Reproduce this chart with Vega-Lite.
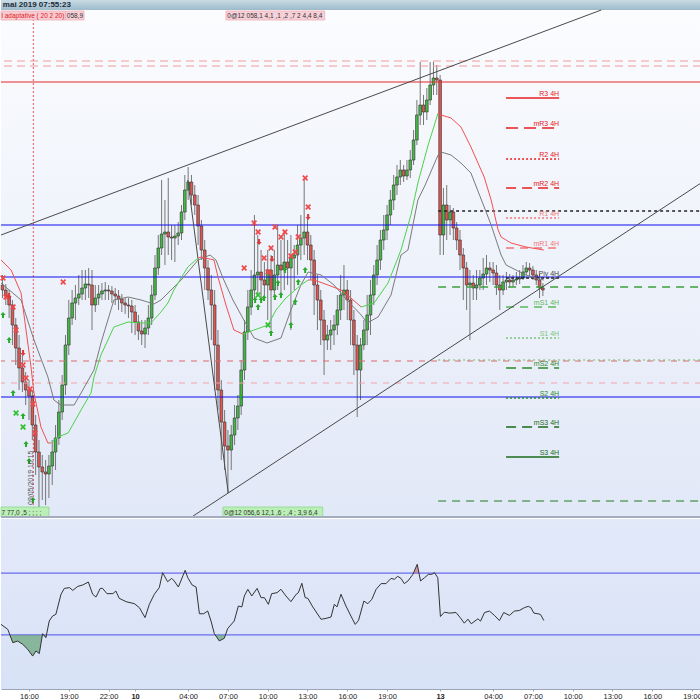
{
"$schema":"https://vega.github.io/schema/vega-lite/v6.json",
"padding":0,
"spacing":1,
"background":"#ffffff",
"config":{"view":{"stroke":null},"axis":{"grid":false},"font":"Liberation Sans","scale":{"continuousPadding":0}},
"datasets":{
"candles":[
{"t":0,"o":315,"h":325,"l":302,"c":310},{"t":1,"o":310,"h":316,"l":295,"c":304},{"t":2,"o":304,"h":310,"l":282,"c":295},{"t":3,"o":295,"h":300,"l":255,"c":275},{"t":4,"o":275,"h":282,"l":235,"c":252},{"t":5,"o":252,"h":265,"l":210,"c":232},{"t":6,"o":232,"h":245,"l":208,"c":218},{"t":7,"o":218,"h":228,"l":195,"c":210},{"t":8,"o":210,"h":220,"l":180,"c":204},{"t":9,"o":204,"h":210,"l":160,"c":175},
{"t":10,"o":175,"h":185,"l":125,"c":148},{"t":11,"o":148,"h":160,"l":93,"c":133},{"t":12,"o":133,"h":145,"l":100,"c":128},{"t":13,"o":128,"h":140,"l":95,"c":126},{"t":14,"o":126,"h":145,"l":102,"c":134},{"t":15,"o":134,"h":160,"l":115,"c":148},{"t":16,"o":148,"h":175,"l":130,"c":162},{"t":17,"o":162,"h":200,"l":155,"c":188},{"t":18,"o":188,"h":225,"l":180,"c":215},{"t":19,"o":215,"h":265,"l":205,"c":255},
{"t":20,"o":255,"h":300,"l":245,"c":282},{"t":21,"o":282,"h":310,"l":275,"c":297},{"t":22,"o":297,"h":315,"l":280,"c":302},{"t":23,"o":302,"h":325,"l":295,"c":306},{"t":24,"o":306,"h":330,"l":300,"c":312},{"t":25,"o":312,"h":330,"l":300,"c":316},{"t":26,"o":316,"h":332,"l":302,"c":315},{"t":27,"o":315,"h":330,"l":270,"c":295},{"t":28,"o":295,"h":315,"l":288,"c":302},{"t":29,"o":302,"h":315,"l":295,"c":306},
{"t":30,"o":306,"h":317,"l":300,"c":309},{"t":31,"o":309,"h":318,"l":300,"c":310},{"t":32,"o":310,"h":315,"l":300,"c":309},{"t":33,"o":309,"h":314,"l":297,"c":306},{"t":34,"o":306,"h":312,"l":295,"c":304},{"t":35,"o":304,"h":310,"l":290,"c":301},{"t":36,"o":301,"h":306,"l":288,"c":297},{"t":37,"o":297,"h":302,"l":286,"c":295},{"t":38,"o":295,"h":302,"l":282,"c":294},{"t":39,"o":294,"h":300,"l":267,"c":288},
{"t":40,"o":288,"h":295,"l":265,"c":278},{"t":41,"o":278,"h":285,"l":260,"c":269},{"t":42,"o":269,"h":280,"l":255,"c":266},{"t":43,"o":266,"h":280,"l":252,"c":272},{"t":44,"o":272,"h":295,"l":265,"c":282},{"t":45,"o":282,"h":315,"l":275,"c":305},{"t":46,"o":305,"h":345,"l":300,"c":332},{"t":47,"o":332,"h":365,"l":325,"c":352},{"t":48,"o":352,"h":420,"l":345,"c":366},{"t":49,"o":366,"h":400,"l":335,"c":368},
{"t":50,"o":368,"h":422,"l":345,"c":363},{"t":51,"o":363,"h":375,"l":340,"c":362},{"t":52,"o":362,"h":375,"l":338,"c":364},{"t":53,"o":364,"h":378,"l":355,"c":367},{"t":54,"o":367,"h":395,"l":360,"c":388},{"t":55,"o":388,"h":425,"l":380,"c":410},{"t":56,"o":410,"h":433,"l":400,"c":418},{"t":57,"o":418,"h":425,"l":395,"c":405},{"t":58,"o":405,"h":415,"l":385,"c":395},{"t":59,"o":395,"h":405,"l":355,"c":374},
{"t":60,"o":374,"h":380,"l":340,"c":350},{"t":61,"o":350,"h":360,"l":310,"c":332},{"t":62,"o":332,"h":340,"l":300,"c":310},{"t":63,"o":310,"h":325,"l":260,"c":295},{"t":64,"o":295,"h":310,"l":210,"c":255},{"t":65,"o":255,"h":270,"l":190,"c":210},{"t":66,"o":210,"h":220,"l":140,"c":178},{"t":67,"o":178,"h":190,"l":130,"c":154},{"t":68,"o":154,"h":170,"l":107,"c":150},{"t":69,"o":150,"h":175,"l":130,"c":165},
{"t":70,"o":165,"h":195,"l":155,"c":182},{"t":71,"o":182,"h":205,"l":170,"c":194},{"t":72,"o":194,"h":240,"l":185,"c":230},{"t":73,"o":230,"h":280,"l":220,"c":268},{"t":74,"o":268,"h":310,"l":260,"c":293},{"t":75,"o":293,"h":330,"l":285,"c":310},{"t":76,"o":310,"h":385,"l":300,"c":325},{"t":77,"o":325,"h":365,"l":305,"c":328},{"t":78,"o":328,"h":350,"l":300,"c":320},{"t":79,"o":320,"h":338,"l":300,"c":315},
{"t":80,"o":315,"h":350,"l":280,"c":330},{"t":81,"o":330,"h":345,"l":270,"c":310},{"t":82,"o":310,"h":350,"l":300,"c":325},{"t":83,"o":325,"h":375,"l":310,"c":335},{"t":84,"o":335,"h":360,"l":305,"c":330},{"t":85,"o":330,"h":370,"l":310,"c":338},{"t":86,"o":338,"h":360,"l":315,"c":332},{"t":87,"o":332,"h":365,"l":270,"c":342},{"t":88,"o":342,"h":355,"l":310,"c":345},{"t":89,"o":345,"h":375,"l":325,"c":355},
{"t":90,"o":355,"h":385,"l":340,"c":362},{"t":91,"o":362,"h":420,"l":345,"c":368},{"t":92,"o":368,"h":385,"l":340,"c":355},{"t":93,"o":355,"h":365,"l":320,"c":340},{"t":94,"o":340,"h":350,"l":285,"c":315},{"t":95,"o":315,"h":325,"l":270,"c":300},{"t":96,"o":300,"h":310,"l":255,"c":280},{"t":97,"o":280,"h":290,"l":225,"c":260},{"t":98,"o":260,"h":275,"l":250,"c":265},{"t":99,"o":265,"h":280,"l":250,"c":270},
{"t":100,"o":270,"h":285,"l":255,"c":275},{"t":101,"o":275,"h":305,"l":265,"c":290},{"t":102,"o":290,"h":325,"l":280,"c":305},{"t":103,"o":305,"h":335,"l":290,"c":310},{"t":104,"o":310,"h":320,"l":280,"c":300},{"t":105,"o":300,"h":310,"l":255,"c":280},{"t":106,"o":280,"h":290,"l":225,"c":255},{"t":107,"o":255,"h":265,"l":183,"c":230},{"t":108,"o":230,"h":262,"l":200,"c":255},{"t":109,"o":255,"h":280,"l":250,"c":270},
{"t":110,"o":270,"h":305,"l":255,"c":285},{"t":111,"o":285,"h":320,"l":265,"c":305},{"t":112,"o":305,"h":335,"l":295,"c":325},{"t":113,"o":325,"h":355,"l":315,"c":340},{"t":114,"o":340,"h":370,"l":330,"c":360},{"t":115,"o":360,"h":385,"l":350,"c":370},{"t":116,"o":370,"h":395,"l":360,"c":385},{"t":117,"o":385,"h":410,"l":375,"c":400},{"t":118,"o":400,"h":425,"l":390,"c":415},{"t":119,"o":415,"h":435,"l":405,"c":423},
{"t":120,"o":423,"h":440,"l":415,"c":430},{"t":121,"o":430,"h":435,"l":418,"c":424},{"t":122,"o":424,"h":440,"l":420,"c":430},{"t":123,"o":430,"h":450,"l":422,"c":440},{"t":124,"o":440,"h":470,"l":435,"c":460},{"t":125,"o":460,"h":500,"l":455,"c":485},{"t":126,"o":485,"h":538,"l":475,"c":495},{"t":127,"o":495,"h":505,"l":475,"c":488},{"t":128,"o":488,"h":512,"l":480,"c":500},{"t":129,"o":500,"h":538,"l":495,"c":515},
{"t":130,"o":515,"h":538,"l":505,"c":522},{"t":131,"o":522,"h":535,"l":505,"c":520},{"t":132,"o":520,"h":525,"l":345,"c":365},{"t":133,"o":365,"h":412,"l":345,"c":395},{"t":134,"o":395,"h":415,"l":360,"c":380},{"t":135,"o":380,"h":395,"l":365,"c":388},{"t":136,"o":388,"h":392,"l":360,"c":372},{"t":137,"o":372,"h":378,"l":350,"c":360},{"t":138,"o":360,"h":370,"l":330,"c":345},{"t":139,"o":345,"h":352,"l":300,"c":332},
{"t":140,"o":332,"h":338,"l":290,"c":315},{"t":141,"o":315,"h":330,"l":260,"c":317},{"t":142,"o":317,"h":325,"l":300,"c":312},{"t":143,"o":312,"h":330,"l":300,"c":315},{"t":144,"o":315,"h":330,"l":310,"c":322},{"t":145,"o":322,"h":342,"l":310,"c":326},{"t":146,"o":326,"h":345,"l":315,"c":332},{"t":147,"o":332,"h":338,"l":318,"c":330},{"t":148,"o":330,"h":338,"l":315,"c":327},{"t":149,"o":327,"h":335,"l":305,"c":315},
{"t":150,"o":315,"h":325,"l":290,"c":310},{"t":151,"o":310,"h":325,"l":305,"c":318},{"t":152,"o":318,"h":328,"l":310,"c":320},{"t":153,"o":320,"h":326,"l":312,"c":318},{"t":154,"o":318,"h":325,"l":313,"c":320},{"t":155,"o":320,"h":328,"l":315,"c":321},{"t":156,"o":321,"h":330,"l":316,"c":322},{"t":157,"o":322,"h":335,"l":320,"c":328},{"t":158,"o":328,"h":338,"l":325,"c":332},{"t":159,"o":332,"h":337,"l":324,"c":330},
{"t":160,"o":330,"h":334,"l":320,"c":325},{"t":161,"o":325,"h":330,"l":315,"c":320},{"t":162,"o":320,"h":326,"l":302,"c":312},{"t":163,"o":312,"h":317,"l":304,"c":310}
],
"mid":[
{"t":-0.45,"v":317},{"t":5.6,"v":300},{"t":9.5,"v":260},{"t":13.7,"v":223},{"t":15.5,"v":200},{"t":17.6,"v":195},{"t":21.6,"v":195},{"t":23.7,"v":207},{"t":27.6,"v":230},{"t":29.7,"v":257},{"t":32.7,"v":290},{"t":33.6,"v":300},{"t":37.9,"v":303},{"t":41.8,"v":300},{"t":45.7,"v":296},{"t":47.8,"v":300},{"t":53.9,"v":320},{"t":59,"v":340},{"t":62.6,"v":345},{"t":64.4,"v":340},{"t":66.5,"v":322},{"t":69.5,"v":300},{"t":72.8,"v":280},{"t":75.9,"v":262},{"t":79.8,"v":257},{"t":84,"v":262},{"t":87,"v":290},{"t":90,"v":315},{"t":92.2,"v":328},{"t":96.1,"v":325},{"t":100,"v":315},{"t":103.9,"v":300},{"t":108.2,"v":285},{"t":110,"v":277},{"t":113.3,"v":283},{"t":117.2,"v":305},{"t":120.2,"v":345},{"t":122.3,"v":350},{"t":125.3,"v":400},{"t":127.5,"v":415},{"t":131.4,"v":445},{"t":132.3,"v":448},{"t":135.3,"v":445},{"t":138.3,"v":437},{"t":141.3,"v":427},{"t":145.3,"v":393},{"t":147.4,"v":375},{"t":150.4,"v":345},{"t":151.9,"v":335},{"t":154.9,"v":330},{"t":157.9,"v":325},{"t":160.9,"v":322},{"t":163.3,"v":320}
],
"band":[
{"s":"r1","t":-0.45,"v":340},{"s":"r1","t":2.6,"v":330},{"s":"r1","t":5.6,"v":307},{"s":"r1","t":8.6,"v":233},{"s":"r1","t":9.5,"v":207},{"s":"r1","t":11.6,"v":173},{"s":"r1","t":13.7,"v":157},{"s":"r1","t":14.6,"v":157},
{"s":"g1","t":14.6,"v":157},{"s":"g1","t":16.7,"v":163},{"s":"g1","t":19.8,"v":167},{"s":"g1","t":23.7,"v":190},{"s":"g1","t":26.7,"v":207},{"s":"g1","t":27.6,"v":223},{"s":"g1","t":29.7,"v":245},{"s":"g1","t":31.8,"v":260},{"s":"g1","t":33.6,"v":273},{"s":"g1","t":37.9,"v":278},{"s":"g1","t":41.8,"v":277},{"s":"g1","t":44.8,"v":277},{"s":"g1","t":47.8,"v":288},{"s":"g1","t":49.9,"v":297},{"s":"g1","t":51.7,"v":310},{"s":"g1","t":55.9,"v":333},{"s":"g1","t":59,"v":342},
{"s":"r2","t":59,"v":342},{"s":"r2","t":59.9,"v":343},{"s":"r2","t":63.8,"v":340},{"s":"r2","t":65,"v":323},{"s":"r2","t":67.4,"v":295},{"s":"r2","t":69.8,"v":270},{"s":"r2","t":72.5,"v":266},
{"s":"g2","t":72.5,"v":266},{"s":"g2","t":75.9,"v":270},{"s":"g2","t":80.1,"v":275},{"s":"g2","t":82.5,"v":290},{"s":"g2","t":85.5,"v":302},{"s":"g2","t":90,"v":315},{"s":"g2","t":92.2,"v":320},
{"s":"r3","t":92.2,"v":320},{"s":"r3","t":94,"v":320},{"s":"r3","t":98.2,"v":315},{"s":"r3","t":102.1,"v":310},{"s":"r3","t":105.1,"v":302},{"s":"r3","t":108.2,"v":293},
{"s":"g3","t":108.2,"v":293},{"s":"g3","t":112.1,"v":297},{"s":"g3","t":116.3,"v":317},{"s":"g3","t":120.2,"v":350},{"s":"g3","t":123.2,"v":385},{"s":"g3","t":125.3,"v":417},{"s":"g3","t":128.4,"v":455},{"s":"g3","t":131.4,"v":487},
{"s":"r4","t":131.4,"v":487},{"s":"r4","t":132.3,"v":485},{"s":"r4","t":135.3,"v":482},{"s":"r4","t":138.3,"v":473},{"s":"r4","t":141.3,"v":453},{"s":"r4","t":145.3,"v":423},{"s":"r4","t":147.4,"v":400},{"s":"r4","t":149.5,"v":370},{"s":"r4","t":150.4,"v":363},{"s":"r4","t":153.4,"v":357},{"s":"r4","t":157.9,"v":353},{"s":"r4","t":163.3,"v":350}
],
"trend":[
{"g":"u","t":-0.45,"v":365},{"g":"u","t":180.6,"v":590},
{"g":"l","t":57.5,"v":84},{"g":"l","t":210.7,"v":417},
{"g":"z","t":55.9,"v":420},{"g":"z","t":68.1,"v":107}
],
"lv":[{"n":"a","v":539},{"n":"b","v":534},{"n":"c","v":518},{"n":"d","v":375},{"n":"e","v":323},{"n":"f","v":203},{"n":"g","v":239},{"n":"h","v":217}],
"pl":[{"n":"p1","v":389},{"n":"p2","v":313},{"n":"p3","v":240},{"n":"p4","v":99}],
"pv":[{"n":"R3","v":502,"lab":"R3 4H"},{"n":"mR3","v":472,"lab":"mR3 4H"},{"n":"R2","v":441,"lab":"R2 4H"},{"n":"mR2","v":412,"lab":"mR2 4H"},{"n":"R1","v":382,"lab":"R1 4H"},{"n":"mR1","v":352,"lab":"mR1 4H"},{"n":"Piv","v":322,"lab":"Piv 4H"},{"n":"mS1","v":293,"lab":"mS1 4H"},{"n":"S1","v":262,"lab":"S1 4H"},{"n":"mS2","v":232,"lab":"mS2 4H"},{"n":"S2","v":202,"lab":"S2 4H"},{"n":"mS3","v":173,"lab":"mS3 4H"},{"n":"S3","v":143,"lab":"S3 4H"}],
"mk":[
{"t":0.15,"v":322,"k":"xr"},{"t":1.05,"v":303,"k":"xr"},{"t":3.2,"v":293,"k":"xr"},{"t":4.1,"v":270,"k":"xr"},{"t":6.2,"v":235,"k":"xr"},{"t":7.1,"v":222,"k":"xr"},{"t":8.3,"v":211,"k":"xr"},{"t":9.2,"v":196,"k":"xr"},{"t":9.8,"v":167,"k":"xr"},{"t":18.3,"v":318,"k":"xr"},
{"t":72.9,"v":332,"k":"xr"},{"t":75.9,"v":377,"k":"xr"},{"t":77.1,"v":368,"k":"xr"},{"t":78.9,"v":342,"k":"xr"},{"t":81,"v":352,"k":"xr"},{"t":80.1,"v":328,"k":"xr"},{"t":82.2,"v":373,"k":"xr"},{"t":84,"v":363,"k":"xr"},{"t":85.2,"v":368,"k":"xr"},{"t":87,"v":344,"k":"xr"},{"t":88.3,"v":348,"k":"xr"},{"t":89.2,"v":363,"k":"xr"},{"t":91.3,"v":422,"k":"xr"},{"t":92.2,"v":393,"k":"xr"},
{"t":2,"v":304,"k":"dn"},{"t":6.2,"v":247,"k":"dn"},{"t":77.4,"v":358,"k":"dn"},{"t":81.3,"v":341,"k":"dn"},{"t":92.2,"v":383,"k":"dn"},
{"t":0.15,"v":285,"k":"up"},{"t":2,"v":260,"k":"up"},{"t":3.2,"v":207,"k":"up"},{"t":6.2,"v":184,"k":"up"},{"t":7.1,"v":156,"k":"up"},{"t":8,"v":139,"k":"up"},{"t":9.2,"v":100,"k":"up"},{"t":76.2,"v":300,"k":"up"},{"t":77.1,"v":293,"k":"up"},{"t":78,"v":300,"k":"up"},{"t":78.9,"v":302,"k":"up"},{"t":82.2,"v":303,"k":"up"},{"t":84,"v":305,"k":"up"},{"t":83.1,"v":317,"k":"up"},{"t":85.2,"v":330,"k":"up"},{"t":88.3,"v":298,"k":"up"},{"t":89.2,"v":318,"k":"up"},{"t":87,"v":275,"k":"up"},{"t":81,"v":267,"k":"up"},{"t":91.3,"v":330,"k":"up"},{"t":71.9,"v":203,"k":"up"},
{"t":4.1,"v":187,"k":"xg"},{"t":6.2,"v":173,"k":"xg"},{"t":77.1,"v":305,"k":"xg"},{"t":80.1,"v":275,"k":"xg"}
],
"boxes":[
{"x0":-0.45,"x1":19.0,"v0":580,"v1":589,"k":"pr","tx":-0.3,"txt":"l adaptative ( 20 2 20)"},
{"x0":19.1,"x1":24.6,"v0":580,"v1":589,"k":"pd","tx":19.4,"txt":"058,9"},
{"x0":67.4,"x1":97.2,"v0":580,"v1":589,"k":"pd","tx":67.8,"txt":"0@12 058,1  4,1  ,1  ,2  ,7  2  4,4   8,4"},
{"x0":-0.45,"x1":14,"v0":83,"v1":93,"k":"g","tx":-0.3,"txt":"7 77,0 ,5  ;  ;  ;  ;"},
{"x0":66.5,"x1":96.6,"v0":83,"v1":93,"k":"g","tx":66.9,"txt":"0@12 056,6 12,1 ,6  ;  ,4  ; 3,9  6,4"}
],
"rsi":[
{"t":-0.45,"r":36.8},{"t":1.6,"r":33.6},{"t":3.1,"r":25},{"t":4.6,"r":26},{"t":6.1,"r":23.9},{"t":7.6,"r":20.7},{"t":9.1,"r":16.3},{"t":10.1,"r":19.6},{"t":11.1,"r":17.9},{"t":12.1,"r":30.8},{"t":13.1,"r":28.2},{"t":14.1,"r":39},{"t":15.1,"r":42.2},{"t":16.1,"r":43.3},{"t":17.65,"r":56.3},{"t":18.65,"r":60.1},{"t":20.2,"r":60.6},{"t":21.2,"r":58.8},{"t":22.7,"r":61.4},{"t":24.2,"r":62.3},{"t":25.9,"r":64.2},{"t":27.2,"r":56.3},{"t":28.2,"r":54.5},{"t":29.5,"r":60.1},{"t":30.2,"r":60.1},{"t":31.5,"r":56.7},{"t":33.3,"r":56.7},{"t":34.2,"r":58.4},{"t":35.2,"r":53.7},{"t":37.3,"r":51.5},{"t":39.8,"r":50.2},{"t":41.3,"r":47.6},{"t":43,"r":41.2},{"t":44.3,"r":49.8},{"t":45.8,"r":56.3},{"t":47.3,"r":60.6},{"t":48.3,"r":70.3},{"t":49.8,"r":64.4},{"t":51.05,"r":66.6},{"t":51.8,"r":64.9},{"t":53.05,"r":61},{"t":55.1,"r":71.8},{"t":55.9,"r":67},{"t":57.2,"r":62.3},{"t":58.4,"r":61},{"t":59.4,"r":43.7},{"t":60.7,"r":43.7},{"t":61.9,"r":45.5},{"t":62.9,"r":39},{"t":63.9,"r":30.8},{"t":65.4,"r":26.1},{"t":66.9,"r":27.8},{"t":67.95,"r":34.2},{"t":69.9,"r":39},{"t":71.15,"r":48.7},{"t":72.2,"r":48.1},{"t":72.95,"r":55.2},{"t":74,"r":59.5},{"t":75.2,"r":55.2},{"t":76.8,"r":60.1},{"t":78,"r":54.1},{"t":79,"r":54.1},{"t":80.2,"r":49.8},{"t":81.2,"r":56.7},{"t":82.8,"r":57.3},{"t":84,"r":59.5},{"t":85.5,"r":55.2},{"t":87,"r":51.5},{"t":88.6,"r":56.3},{"t":89.25,"r":57.3},{"t":90.3,"r":63.4},{"t":91.3,"r":54.1},{"t":92.1,"r":53.7},{"t":93.6,"r":48.1},{"t":96.1,"r":40.1},{"t":97.6,"r":40.7},{"t":99.1,"r":41.6},{"t":100.1,"r":49.8},{"t":100.9,"r":48.1},{"t":102.1,"r":56.3},{"t":103.6,"r":48.7},{"t":105.1,"r":42.2},{"t":106.4,"r":36.8},{"t":107.4,"r":39.4},{"t":109,"r":51.9},{"t":110.2,"r":50.2},{"t":111.4,"r":53},{"t":112.7,"r":59.5},{"t":114.2,"r":63.2},{"t":115.7,"r":63.2},{"t":117.2,"r":66.6},{"t":118.2,"r":66},{"t":119.2,"r":67.9},{"t":120.2,"r":66.6},{"t":121.2,"r":63.2},{"t":122.3,"r":64.9},{"t":123.8,"r":69.2},{"t":125.1,"r":75.7},{"t":126.1,"r":64.9},{"t":127.3,"r":67},{"t":128.5,"r":69.2},{"t":129.5,"r":69.2},{"t":130.3,"r":70.3},{"t":131.3,"r":67},{"t":132.1,"r":41.9},{"t":133.3,"r":44.7},{"t":134.8,"r":44.1},{"t":136.8,"r":44.5},{"t":138.1,"r":41.1},{"t":139.3,"r":37.6},{"t":140.4,"r":40.2},{"t":141.4,"r":37.2},{"t":143.4,"r":40.4},{"t":144.2,"r":38.9},{"t":145.4,"r":44.5},{"t":146.9,"r":45.4},{"t":148.4,"r":42.6},{"t":149.9,"r":39.3},{"t":151.2,"r":44.5},{"t":152.9,"r":42.6},{"t":154.4,"r":45.4},{"t":155.9,"r":45.8},{"t":157.4,"r":47.6},{"t":158.6,"r":48.5},{"t":159.4,"r":47.6},{"t":160.3,"r":44.1},{"t":161.5,"r":43.7},{"t":162.3,"r":43.2},{"t":163.3,"r":39.3}
],
"os":[
{"g":"a","t":2.2,"r":30},{"g":"a","t":3.1,"r":25},{"g":"a","t":4.6,"r":26},{"g":"a","t":6.1,"r":23.9},{"g":"a","t":7.6,"r":20.7},{"g":"a","t":9.1,"r":16.3},{"g":"a","t":10.1,"r":19.6},{"g":"a","t":11.1,"r":17.9},{"g":"a","t":12.04,"r":30},
{"g":"b","t":12.4,"r":30},{"g":"b","t":13.1,"r":28.2},{"g":"b","t":13.27,"r":30},
{"g":"c","t":64.15,"r":30},{"g":"c","t":65.4,"r":26.1},{"g":"c","t":66.9,"r":27.8},{"g":"c","t":67.26,"r":30}
],
"ob":[{"t":123.96,"r":70},{"t":125.1,"r":75.7},{"t":125.63,"r":70}]
},
"vconcat":[
{
"width":700,"height":517,
"resolve":{"scale":{"color":"independent","strokeDash":"independent","strokeWidth":"independent","shape":"independent","fill":"independent","stroke":"independent"}},
"layer":[
{"data":{"values":[{"p":"bg"}]},
 "mark":{"type":"rect","fill":{"gradient":"linear","x1":0,"y1":0,"x2":0,"y2":1,"stops":[{"offset":0,"color":"#fbfcfe"},{"offset":1,"color":"#e1e8f7"}]}},
 "encoding":{"x":{"datum":-0.45,"type":"quantitative","scale":{"domain":[-0.45,210.7],"nice":false,"zero":false,"padding":0},"axis":null},"x2":{"datum":210.7},
 "y":{"datum":83,"type":"quantitative","scale":{"domain":[83,600],"nice":false,"zero":false,"padding":0},"axis":null},"y2":{"datum":590}}},
{"data":{"values":[{"p":"bar"}]},
 "mark":{"type":"rect","fill":{"gradient":"linear","x1":0,"y1":0,"x2":0,"y2":1,"stops":[{"offset":0,"color":"#cadce5"},{"offset":1,"color":"#9dbacb"}]}},
 "encoding":{"x":{"datum":-0.45,"type":"quantitative","axis":null},"x2":{"datum":210.7},"y":{"datum":590,"type":"quantitative","axis":null},"y2":{"datum":600}}},
{"data":{"values":[{"t":9.3}]},
 "mark":{"type":"rule","color":"#e85858","strokeDash":[2,2],"strokeWidth":1},
 "encoding":{"x":{"field":"t","type":"quantitative","axis":null},"y":{"datum":83,"type":"quantitative","axis":null},"y2":{"datum":580}}},
{"data":{"name":"candles"},
 "mark":{"type":"rule","color":"#767676","strokeWidth":1},
 "encoding":{"x":{"field":"t","type":"quantitative","axis":null},"y":{"field":"l","type":"quantitative","axis":null},"y2":{"field":"h"}}},
{"data":{"name":"candles"},
 "mark":{"type":"bar","size":2.7,"stroke":"#2e2e2e","strokeWidth":0.6,"orient":"vertical"},
 "encoding":{"x":{"field":"t","type":"quantitative","axis":null},"y":{"field":"o","type":"quantitative","axis":null},"y2":{"field":"c"},
 "fill":{"condition":{"test":"datum.c > datum.o","value":"#44b844"},"value":"#de5752"}}},
{"data":{"name":"lv"},
 "mark":{"type":"rule","clip":true},
 "encoding":{"y":{"field":"v","type":"quantitative","axis":null},
 "color":{"field":"n","type":"nominal","legend":null,"scale":{"domain":["a","b","c","d","e","f","g","h"],"range":["#f29a9a","#f29a9a","#e62828","#0c0cf0","#0c0cf0","#0c0cf0","#e06a6a","#f2a6a6"]}},
 "strokeDash":{"field":"n","type":"nominal","legend":null,"scale":{"domain":["a","b","c","d","e","f","g","h"],"range":[[8,5],[8,5],[1,0],[1,0],[1,0],[1,0],[6,6],[6,6]]}},
 "strokeWidth":{"field":"n","type":"nominal","legend":null,"scale":{"domain":["a","b","c","d","e","f","g","h"],"range":[1.2,1.2,1.5,1.8,1.8,1.8,1,1.2]}}}},
{"data":{"name":"pl"},
 "mark":{"type":"rule","clip":true},
 "encoding":{"x":{"datum":131.4,"type":"quantitative","axis":null},"x2":{"datum":210.7},"y":{"field":"v","type":"quantitative","axis":null},
 "color":{"field":"n","type":"nominal","legend":null,"scale":{"domain":["p1","p2","p3","p4"],"range":["#222222","#3da03d","#6ab86a","#1f7a1f"]}},
 "strokeDash":{"field":"n","type":"nominal","legend":null,"scale":{"domain":["p1","p2","p3","p4"],"range":[[3,3],[8,6],[2,3],[8,6]]}},
 "strokeWidth":{"field":"n","type":"nominal","legend":null,"scale":{"domain":["p1","p2","p3","p4"],"range":[1.5,1,1.2,1.5]}}}},
{"data":{"name":"pv"},
 "mark":{"type":"rule"},
 "encoding":{"x":{"datum":151.9,"type":"quantitative","axis":null},"x2":{"datum":167.9},"y":{"field":"v","type":"quantitative","axis":null},
 "color":{"field":"n","type":"nominal","legend":null,"scale":{"domain":["R3","mR3","R2","mR2","R1","mR1","Piv","mS1","S1","mS2","S2","mS3","S3"],"range":["#e62020","#e62020","#e62020","#e62020","#f07878","#f07878","#222222","#5ab85a","#7cc47c","#2a8a2a","#2a8a2a","#1a6a1a","#1a6a1a"]}},
 "strokeDash":{"field":"n","type":"nominal","legend":null,"scale":{"domain":["R3","mR3","R2","mR2","R1","mR1","Piv","mS1","S1","mS2","S2","mS3","S3"],"range":[[1,0],[12,6],[2,2],[10,6],[2,2],[8,6],[3,2],[8,6],[2,2],[10,6],[2,2],[10,6],[1,0]]}},
 "strokeWidth":{"field":"n","type":"nominal","legend":null,"scale":{"domain":["R3","mR3","R2","mR2","R1","mR1","Piv","mS1","S1","mS2","S2","mS3","S3"],"range":[1.6,1.6,1.6,1.6,1.2,1.2,1.6,1.2,1.2,1.6,1.6,1.6,1.6]}}}},
{"data":{"name":"trend"},
 "mark":{"type":"line","color":"#4a4a4a","strokeWidth":1,"clip":true},
 "encoding":{"x":{"field":"t","type":"quantitative","axis":null},"y":{"field":"v","type":"quantitative","axis":null},"detail":{"field":"g"}}},
{"data":{"name":"mid"},
 "mark":{"type":"line","color":"#7a7a7a","strokeWidth":1,"clip":true},
 "encoding":{"x":{"field":"t","type":"quantitative","axis":null},"y":{"field":"v","type":"quantitative","axis":null}}},
{"data":{"name":"band"},
 "mark":{"type":"line","strokeWidth":1,"clip":true},
 "encoding":{"x":{"field":"t","type":"quantitative","axis":null},"y":{"field":"v","type":"quantitative","axis":null},"detail":{"field":"s"},
 "color":{"field":"s","type":"nominal","legend":null,"scale":{"domain":["r1","g1","r2","g2","r3","g3","r4"],"range":["#f25050","#4cd24c","#f25050","#4cd24c","#f25050","#4cd24c","#f25050"]}}}},
{"data":{"name":"mk"},
 "mark":{"type":"point","filled":true,"size":34,"opacity":1},
 "encoding":{"x":{"field":"t","type":"quantitative","axis":null},"y":{"field":"v","type":"quantitative","axis":null},
 "shape":{"field":"k","type":"nominal","legend":null,"scale":{"domain":["xr","xg","up","dn"],"range":["M-1,-0.6L-0.6,-1L0,-0.4L0.6,-1L1,-0.6L0.4,0L1,0.6L0.6,1L0,0.4L-0.6,1L-1,0.6L-0.4,0Z","M-1,-0.6L-0.6,-1L0,-0.4L0.6,-1L1,-0.6L0.4,0L1,0.6L0.6,1L0,0.4L-0.6,1L-1,0.6L-0.4,0Z","M0,-1L0.9,0L0.35,0L0.35,1L-0.35,1L-0.35,0L-0.9,0Z","M0,1L0.9,0L0.35,0L0.35,-1L-0.35,-1L-0.35,0L-0.9,0Z"]}},
 "color":{"field":"k","type":"nominal","legend":null,"scale":{"domain":["xr","xg","up","dn"],"range":["#f04848","#2ec02e","#2aaa2a","#e03838"]}}}},
{"data":{"name":"pv"},
 "mark":{"type":"text","align":"right","baseline":"bottom","dy":-1,"fontSize":7,"font":"Liberation Sans"},
 "encoding":{"x":{"datum":167.9,"type":"quantitative","axis":null},"y":{"field":"v","type":"quantitative","axis":null},"text":{"field":"lab"},
 "color":{"field":"n","type":"nominal","legend":null,"scale":{"domain":["R3","mR3","R2","mR2","R1","mR1","Piv","mS1","S1","mS2","S2","mS3","S3"],"range":["#e62020","#e62020","#e62020","#e62020","#f07878","#f07878","#444444","#5ab85a","#7cc47c","#2a8a2a","#2a8a2a","#1a6a1a","#1a6a1a"]}}}},
{"data":{"name":"boxes"},
 "mark":{"type":"rect","strokeWidth":0.8,"opacity":0.9},
 "encoding":{"x":{"field":"x0","type":"quantitative","axis":null},"x2":{"field":"x1"},"y":{"field":"v0","type":"quantitative","axis":null},"y2":{"field":"v1"},
 "fill":{"field":"k","type":"nominal","legend":null,"scale":{"domain":["pr","pd","g"],"range":["#f7c6ce","#f7ccd4","#b6f0b0"]}},
 "stroke":{"field":"k","type":"nominal","legend":null,"scale":{"domain":["pr","pd","g"],"range":["#f0a8b4","#f0a8b4","#84d884"]}}}},
{"data":{"name":"boxes"},
 "mark":{"type":"text","align":"left","baseline":"middle","fontSize":6.5,"font":"Liberation Sans"},
 "encoding":{"x":{"field":"tx","type":"quantitative","axis":null},"y":{"field":"v0","type":"quantitative","axis":null},"yOffset":{"value":-4.5},"text":{"field":"txt"},
 "color":{"field":"k","type":"nominal","legend":null,"scale":{"domain":["pr","pd","g"],"range":["#e02020","#333333","#333333"]}}}},
{"data":{"values":[{"t":0.1,"v":595,"txt":"mai 2019 07:55:23"}]},
 "mark":{"type":"text","align":"left","baseline":"middle","fontSize":8,"fontWeight":"bold","color":"#1c2a36","font":"Liberation Sans"},
 "encoding":{"x":{"field":"t","type":"quantitative","axis":null},"y":{"field":"v","type":"quantitative","axis":null},"text":{"field":"txt"}}},
{"data":{"values":[{"t":8.7,"v":95,"txt":"09/05/2019 16:15"}]},
 "mark":{"type":"text","align":"left","baseline":"middle","angle":270,"fontSize":7,"color":"#555555","font":"Liberation Sans"},
 "encoding":{"x":{"field":"t","type":"quantitative","axis":null},"y":{"field":"v","type":"quantitative","axis":null},"text":{"field":"txt"}}},
{"data":{"values":[{"v":83}]},
 "mark":{"type":"rule","color":"#a4adbd","strokeWidth":2},
 "encoding":{"y":{"field":"v","type":"quantitative","axis":null}}}
]
},
{
"width":700,"height":170,
"layer":[
{"data":{"values":[{"p":"bg"}]},
 "mark":{"type":"rect","fill":{"gradient":"linear","x1":0,"y1":0,"x2":0,"y2":1,"stops":[{"offset":0,"color":"#e2e9f9"},{"offset":1,"color":"#d8e2f6"}]}},
 "encoding":{"x":{"datum":-0.45,"type":"quantitative","scale":{"domain":[-0.45,210.7],"nice":false,"zero":false,"padding":0},
   "axis":{"values":[8,20,32,40,56,68,80,92,104,116,132,148,160,172,184,196,208],
   "labelExpr":"['16:00','19:00','22:00','10','04:00','07:00','10:00','13:00','16:00','19:00','13','04:00','07:00','10:00','13:00','16:00','19:00'][indexof([8,20,32,40,56,68,80,92,104,116,132,148,160,172,184,196,208], datum.value)]",
   "labelFontWeight":{"condition":{"test":"datum.value == 40 || datum.value == 132","value":"bold"},"value":"normal"},
   "labelFont":"Liberation Sans","labelFontSize":7.5,"labelColor":"#222222","domainColor":"#9aa6b8","tickColor":"#9aa6b8","tickSize":2,"labelPadding":1,"labelFlush":false,"labelOverlap":false,"title":null,"grid":false}},
 "x2":{"datum":210.7},
 "y":{"datum":-5,"type":"quantitative","scale":{"domain":[-5,105],"nice":false,"zero":false},"axis":null},"y2":{"datum":105}}},
{"data":{"values":[{"r":70},{"r":30}]},
 "mark":{"type":"rule","color":"#6b6bee","strokeWidth":1.2},
 "encoding":{"y":{"field":"r","type":"quantitative","axis":null}}},
{"data":{"name":"os"},
 "mark":{"type":"area","color":"#5c9c6c","opacity":0.65},
 "encoding":{"x":{"field":"t","type":"quantitative",
   "axis":{"values":[8,20,32,40,56,68,80,92,104,116,132,148,160,172,184,196,208],
   "labelExpr":"['16:00','19:00','22:00','10','04:00','07:00','10:00','13:00','16:00','19:00','13','04:00','07:00','10:00','13:00','16:00','19:00'][indexof([8,20,32,40,56,68,80,92,104,116,132,148,160,172,184,196,208], datum.value)]",
   "labelFontWeight":{"condition":{"test":"datum.value == 40 || datum.value == 132","value":"bold"},"value":"normal"},
   "labelFont":"Liberation Sans","labelFontSize":7.5,"labelColor":"#222222","domainColor":"#9aa6b8","tickColor":"#9aa6b8","tickSize":2,"labelPadding":1,"labelFlush":false,"labelOverlap":false,"title":null,"grid":false}},
 "y":{"field":"r","type":"quantitative","axis":null},"y2":{"datum":30},"detail":{"field":"g"}}},
{"data":{"name":"ob"},
 "mark":{"type":"area","color":"#c86464","opacity":0.6},
 "encoding":{"x":{"field":"t","type":"quantitative",
   "axis":{"values":[8,20,32,40,56,68,80,92,104,116,132,148,160,172,184,196,208],
   "labelExpr":"['16:00','19:00','22:00','10','04:00','07:00','10:00','13:00','16:00','19:00','13','04:00','07:00','10:00','13:00','16:00','19:00'][indexof([8,20,32,40,56,68,80,92,104,116,132,148,160,172,184,196,208], datum.value)]",
   "labelFontWeight":{"condition":{"test":"datum.value == 40 || datum.value == 132","value":"bold"},"value":"normal"},
   "labelFont":"Liberation Sans","labelFontSize":7.5,"labelColor":"#222222","domainColor":"#9aa6b8","tickColor":"#9aa6b8","tickSize":2,"labelPadding":1,"labelFlush":false,"labelOverlap":false,"title":null,"grid":false}},
 "y":{"field":"r","type":"quantitative","axis":null},"y2":{"datum":70}}},
{"data":{"name":"rsi"},
 "mark":{"type":"line","color":"#333333","strokeWidth":1,"clip":true},
 "encoding":{"x":{"field":"t","type":"quantitative",
   "axis":{"values":[8,20,32,40,56,68,80,92,104,116,132,148,160,172,184,196,208],
   "labelExpr":"['16:00','19:00','22:00','10','04:00','07:00','10:00','13:00','16:00','19:00','13','04:00','07:00','10:00','13:00','16:00','19:00'][indexof([8,20,32,40,56,68,80,92,104,116,132,148,160,172,184,196,208], datum.value)]",
   "labelFontWeight":{"condition":{"test":"datum.value == 40 || datum.value == 132","value":"bold"},"value":"normal"},
   "labelFont":"Liberation Sans","labelFontSize":7.5,"labelColor":"#222222","domainColor":"#9aa6b8","tickColor":"#9aa6b8","tickSize":2,"labelPadding":1,"labelFlush":false,"labelOverlap":false,"title":null,"grid":false}},
 "y":{"field":"r","type":"quantitative","axis":null}}}
]
}
]
}
